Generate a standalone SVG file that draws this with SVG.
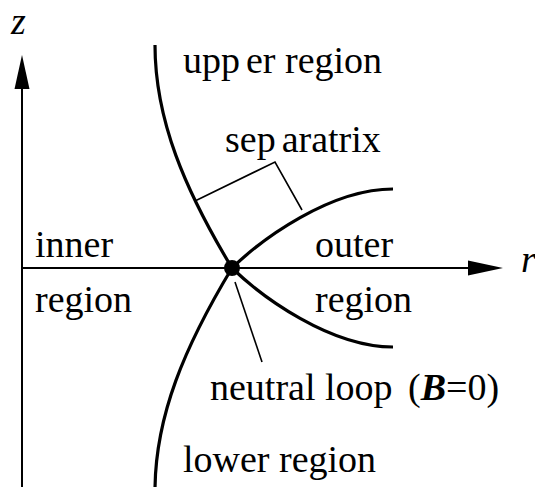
<svg xmlns="http://www.w3.org/2000/svg" width="535" height="487" viewBox="0 0 535 487">
<style>
text{font-family:"Liberation Serif","Times New Roman",serif;font-size:38px;fill:#000}
.axis{stroke:#000;stroke-width:2;fill:none}
.sep{stroke:#000;stroke-width:3.2;fill:none}
.lead{stroke:#000;stroke-width:1.6;fill:none}
</style>
<g id="connectors">
<line class="axis" x1="22" y1="487" x2="22" y2="80"/>
<polygon points="22,55 14.5,89 29.5,89" fill="#000"/>
<line class="axis" x1="22" y1="268" x2="475" y2="268"/>
<polygon points="503,268 468,260.5 468,275.5" fill="#000"/>
<path class="sep" d="M155,45 C155,120 185,190 232,268 C262,297 330,347 393,347"/>
<path class="sep" d="M155,491 C155,416 185,346 232,268 C262,239 330,189 393,189"/>
<polyline class="lead" points="195,201 275,162 302,210"/>
<line class="lead" x1="235" y1="282" x2="262" y2="362"/>
</g>
<g id="neutral-point"><circle cx="232" cy="268" r="8" fill="#000"/></g>
<g id="label-z"><text x="11" y="34" font-style="italic">z</text></g>
<g id="label-r"><text x="521" y="272" font-style="italic">r</text></g>
<g id="upper-region"><text x="183" y="73">upp<tspan dx="6">er region</tspan></text></g>
<g id="separatrix"><text x="225" y="152">sep<tspan dx="6">aratrix</tspan></text></g>
<g id="inner-region"><text x="35" y="257">inner</text><text x="35" y="312">region</text></g>
<g id="outer-region"><text x="315" y="257">outer</text><text x="315" y="312">region</text></g>
<g id="neutral-loop"><text x="210" y="400" font-size="39">neutral loop <tspan dx="6">(</tspan><tspan font-weight="bold" font-style="italic">B</tspan>=0)</text></g>
<g id="lower-region"><text x="183" y="472">lower region</text></g>
</svg>
